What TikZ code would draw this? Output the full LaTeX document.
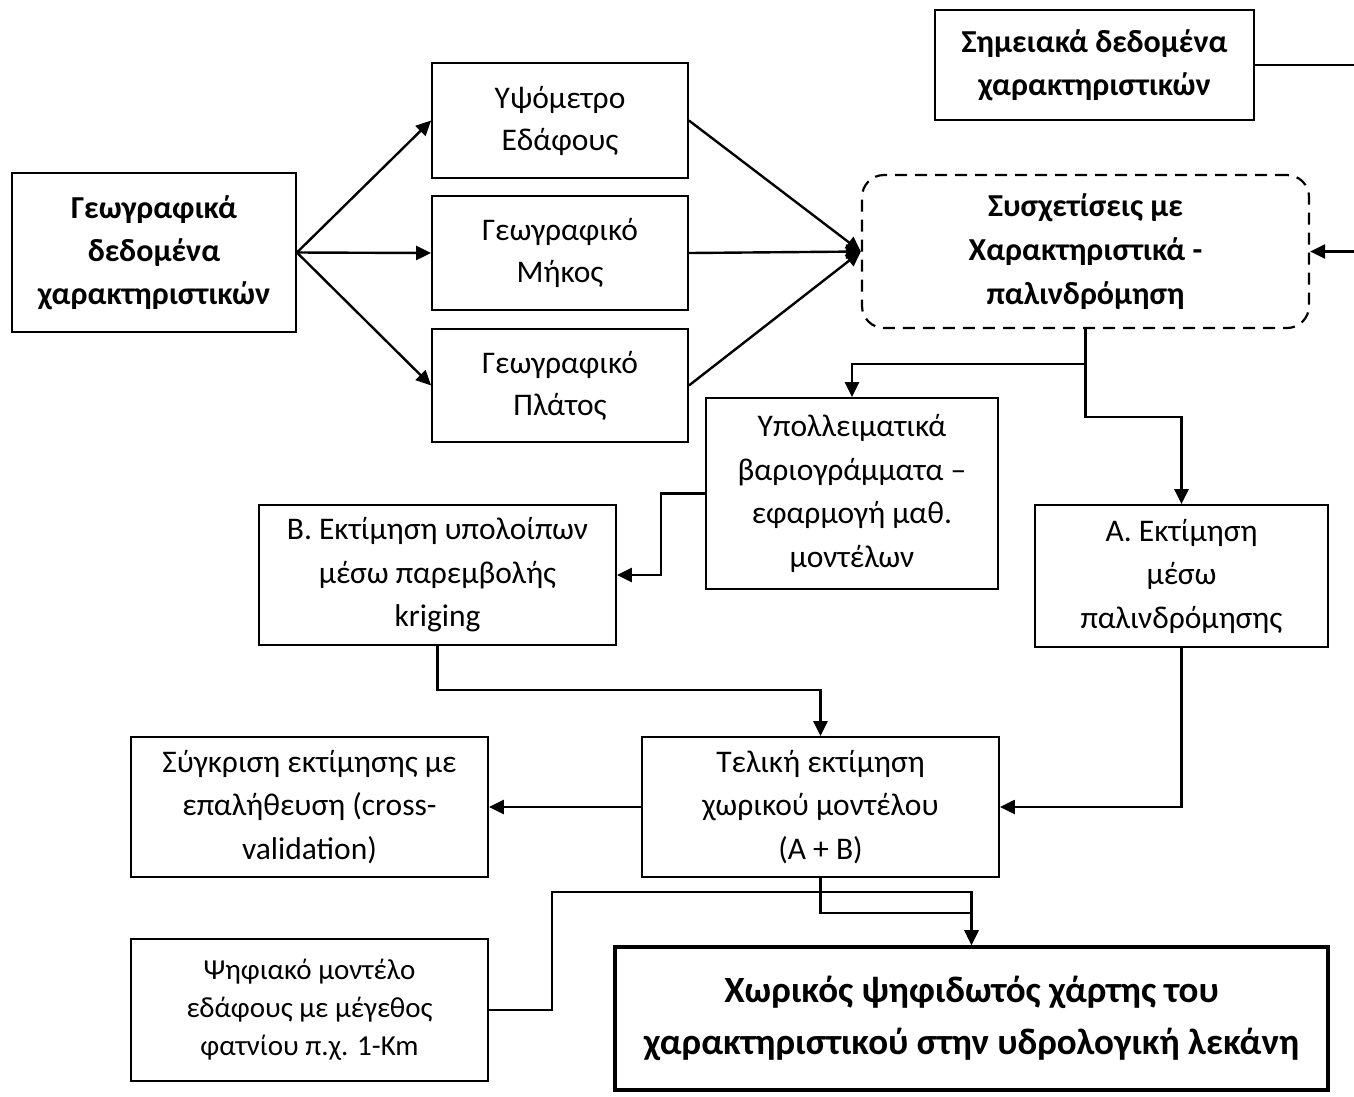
\documentclass[tikz,border=0pt]{standalone}
\usepackage{fontspec}
\setmainfont{Carlito}
\usetikzlibrary{arrows.meta}
\begin{document}
\begin{tikzpicture}[x=1pt,y=-1pt,
  box/.style={draw, line width=1.8pt, align=center, inner sep=0pt,
    font=\fontsize{31.5}{42}\selectfont},
  tallbox/.style={box, font=\fontsize{31.5}{43.5}\selectfont},
  boldbox/.style={box, font=\fontsize{32}{43}\selectfont\bfseries},
  smallbox/.style={box, font=\fontsize{29}{38}\selectfont},
  dashbox/.style={draw, line width=2.2pt, dash pattern=on 12pt off 8pt,
    rounded corners=22pt, align=center, inner sep=0pt,
    font=\fontsize{32}{44}\selectfont\bfseries},
  finalbox/.style={draw, line width=4pt, align=center, inner sep=0pt,
    font=\fontsize{37}{52}\selectfont\bfseries},
  conn/.style={line width=2.4pt},
  arr/.style={conn, -{Triangle[length=15pt,width=14pt]}}]
\useasboundingbox (0,0) rectangle (1354,1096);

% inputs
\node[boldbox, minimum width=319, minimum height=110] (sim) at (1094.5,65)
  {Σημειακά δεδομένα\\χαρακτηριστικών};
\node[boldbox, minimum width=284, minimum height=159] (geo) at (154,252.5)
  {Γεωγραφικά\\δεδομένα\\χαρακτηριστικών};

% geographic variables
\node[box, minimum width=256, minimum height=115] (ypso) at (560,120.5)
  {Υψόμετρο\\Εδάφους};
\node[box, minimum width=256, minimum height=114] (mikos) at (560,253)
  {Γεωγραφικό\\Μήκος};
\node[box, minimum width=256, minimum height=113] (platos) at (560,385.5)
  {Γεωγραφικό\\Πλάτος};

% regression
\node[dashbox, minimum width=447, minimum height=153] (corr) at (1085.5,251.5)
  {Συσχετίσεις με\\Χαρακτηριστικά -\\παλινδρόμηση};

% estimation steps
\node[tallbox, minimum width=292, minimum height=191] (ypol) at (852,493.5)
  {Υπολλειματικά\\βαριογράμματα –\\εφαρμογή μαθ.\\μοντέλων};
\node[tallbox, minimum width=357, minimum height=140] (kb) at (437.5,575)
  {Β. Εκτίμηση υπολοίπων\\μέσω παρεμβολής\\kriging};
\node[tallbox, minimum width=293, minimum height=142] (ka) at (1181.5,576)
  {Α. Εκτίμηση\\μέσω\\παλινδρόμησης};
\node[tallbox, minimum width=357, minimum height=140] (tel) at (820.5,807)
  {Τελική εκτίμηση\\χωρικού μοντέλου\\(A + B)};
\node[tallbox, minimum width=357, minimum height=140] (syg) at (309.5,807)
  {Σύγκριση εκτίμησης με\\επαλήθευση (cross-\\validation)};
\node[smallbox, minimum width=357, minimum height=142] (psi) at (309.5,1010)
  {Ψηφιακό μοντέλο\\εδάφους με μέγεθος\\φατνίου π.χ. 1-Km};
\node[finalbox, minimum width=713, minimum height=143] (fin) at (971.5,1018.5)
  {Χωρικός ψηφιδωτός χάρτης του\\χαρακτηριστικού στην υδρολογική λεκάνη};

% helper points
\coordinate (simout) at (1354,65);
\coordinate (simin) at (1354,251.5);
\coordinate (split) at (1085.5,364);
\coordinate (splitA) at (1085.5,417);
\coordinate (kbend) at (661,493.5);
\coordinate (kbdown) at (437.5,690);
\coordinate (telbot) at (820.5,913);
\coordinate (psiup) at (552,892);

% connectors
\draw[arr] (geo.east) -- (ypso.west);
\draw[arr] (geo.east) -- (mikos.west);
\draw[arr] (geo.east) -- (platos.west);
\draw[arr] (ypso.east) -- (corr.west);
\draw[arr] (mikos.east) -- (corr.west);
\draw[arr] (platos.east) -- (corr.west);
\draw[conn] (sim.east) -- (simout);
\draw[arr] (simin) -- (corr.east);
\draw[arr] (corr.south) -- (split) -| (ypol.north);
\draw[arr] (split) -- (splitA) -| (ka.north);
\draw[arr] (ypol.west) -- (kbend) |- (kb.east);
\draw[arr] (kb.south) -- (kbdown) -| (tel.north);
\draw[arr] (ka.south) |- (tel.east);
\draw[arr] (tel.west) -- (syg.east);
\draw[arr] (tel.south) -- (telbot) -| (fin.north);
\draw[arr] (psi.east) -| (psiup) -| (fin.north);
\end{tikzpicture}
\end{document}
